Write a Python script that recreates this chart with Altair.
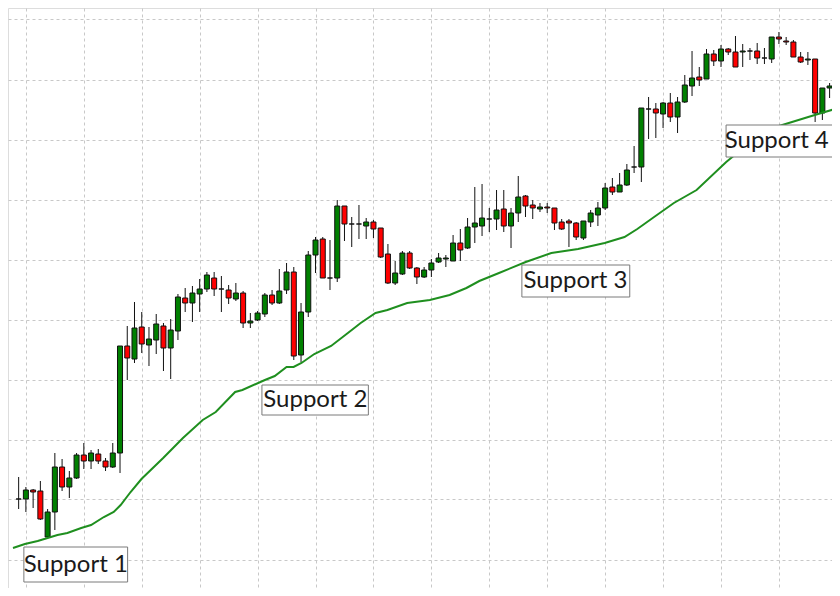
import altair as alt
import pandas as pd

# Candles (index 0..112); prices in arbitrary chart units
opens = [121,121,130,129,83,108,153,133,142,165,159,166,159,153,167,274,261,293,275,280,
         294,272,289,322,317,326,331,342,331,330,321,327,297,300,306,325,317,330,348,265,
         308,365,381,342,342,414,396,396,394,398,392,366,337,346,367,352,343,350,358,361,
         359,377,372,393,394,401,401,411,394,407,424,415,411,413,412,398,399,397,382,398,
         405,412,433,428,435,453,453,511,511,506,517,503,518,534,543,541,566,559,571,568,
         568,569,569,562,561,583,579,578,563,560,561,507,532]
closes = [121,130,128,101,108,153,133,142,165,159,167,159,153,167,274,262,292,276,281,296,
          272,290,323,317,327,331,345,331,331,322,327,297,299,307,325,317,329,348,264,308,
          365,380,342,342,414,396,396,396,398,391,363,337,347,367,352,343,350,357,362,362,
          377,370,393,397,402,401,410,394,407,423,414,412,413,412,397,391,397,383,399,407,
          412,432,428,435,450,453,512,511,507,517,503,518,535,542,540,566,559,571,568,553,
          569,569,562,562,583,581,578,563,558,561,507,532,534]
highs = [143,133,131,139,111,167,161,149,167,177,170,171,162,177,274,294,318,308,293,306,
         297,301,326,332,334,341,348,348,344,335,337,329,307,309,327,330,351,357,353,317,
         369,383,383,380,420,414,403,415,402,400,392,376,359,369,369,353,353,361,367,365,
         385,391,402,433,436,412,430,430,412,444,425,420,417,417,412,401,401,398,399,410,
         418,437,442,447,456,474,512,523,517,518,527,523,545,569,553,571,570,575,572,584,
         576,572,577,572,583,588,583,580,568,568,561,532,537]
lows = [111,108,112,100,83,90,129,122,141,151,151,156,149,152,147,240,257,267,254,266,
        249,241,280,308,298,308,328,324,308,316,319,292,292,299,303,315,316,326,260,258,
        303,347,342,330,338,379,373,381,381,382,362,336,335,345,351,336,342,343,357,353,
        359,359,371,377,384,388,390,388,372,398,403,401,408,407,390,390,373,380,380,393,
        394,410,425,428,434,447,438,481,482,492,498,487,517,524,534,541,554,553,565,553,
        553,560,556,556,557,576,575,563,557,555,498,500,522]

# Moving average, read at positions along the candle index axis
ma_idx = [-0.78,0.86,2.63,4.0,5.36,6.73,8.64,10.0,11.77,13.13,14.09,15.46,16.96,19.96,22.69,
          25.42,27.22,29.9,30.9,34.01,35.37,37.0,37.97,39.06,40.83,43.15,45.47,47.24,49.29,
          50.93,53.66,56.79,59.52,61.84,63.62,66.34,70.03,73.57,77.26,80.94,83.67,85.44,
          87.76,90.49,93.63,97.72,101.41,104.13,105.91,109.05,110.41,112.73]
ma_val = [72,76,79,82,85,87,92,95,103,108,115,128,141,162,182,200,208,228,230,240,244,253,
          253,257,266,274,287,297,307,310,317,320,325,332,339,347,358,367,371,377,383,391,
          403,417,430,458,480,492,496,503,506,511]

# Annotation labels
labels = ["Support 1", "Support 2", "Support 3", "Support 4"]
label_x = [7.89, 40.97, 76.9, 104.7]
label_y = [55, 220, 339, 479]
box_x1 = [0.72, 33.6, 69.5, 97.7]
box_x2 = [15.05, 48.3, 84.4, 114.5]
box_y1 = [38, 205, 323, 463]
box_y2 = [73, 235, 355, 495]

n = len(opens)
df = pd.DataFrame({
    "i": list(range(n)),
    "open": opens, "close": closes, "high": highs, "low": lows,
})
df["dir"] = ["up" if c >= o else "down" for o, c in zip(opens, closes)]
ma_df = pd.DataFrame({"i": ma_idx, "ma": ma_val})
lab_df = pd.DataFrame({"label": labels, "lx": label_x, "ly": label_y,
                       "x1": box_x1, "x2": box_x2, "y1": box_y1, "y2": box_y2})

xgrid = [1 + 8 * k for k in range(14)]
ygrid = [60.5 + 60 * k for k in range(10)]

xs = alt.Scale(domain=[-0.78, 111.64], nice=False, zero=False)
ys = alt.Scale(domain=[32, 612], nice=False, zero=False)
xax = alt.Axis(values=xgrid, grid=True, labels=False, ticks=False, domain=False, title=None,
               gridColor="#c8c8c8", gridDash=[3, 3], gridWidth=1)
yax = alt.Axis(values=ygrid, grid=True, labels=False, ticks=False, domain=False, title=None,
               gridColor="#c8c8c8", gridDash=[3, 3], gridWidth=1)

base = alt.Chart(df)

wicks = base.mark_rule(color="#111111", strokeWidth=1, clip=True).encode(
    x=alt.X("i:Q", scale=xs, axis=xax),
    y=alt.Y("high:Q", scale=ys, axis=yax),
    y2="low:Q",
)

bodies = base.mark_bar(size=5, stroke="#111111", strokeWidth=1, clip=True).encode(
    x=alt.X("i:Q", scale=xs, axis=xax),
    y=alt.Y("open:Q", scale=ys, axis=yax),
    y2="close:Q",
    color=alt.Color("dir:N", scale=alt.Scale(domain=["up", "down"], range=["#008000", "#ff0000"]),
                    legend=None),
)

ma = alt.Chart(ma_df).mark_line(color="#1f8f1f", strokeWidth=2, clip=True).encode(
    x=alt.X("i:Q", scale=xs, axis=xax),
    y=alt.Y("ma:Q", scale=ys, axis=yax),
)

boxes = alt.Chart(lab_df).mark_rect(fill="white", stroke="#7a7a7a", strokeWidth=1, clip=True).encode(
    x=alt.X("x1:Q", scale=xs, axis=xax), x2="x2:Q",
    y=alt.Y("y1:Q", scale=ys, axis=yax), y2="y2:Q",
)

texts = alt.Chart(lab_df).mark_text(font="Lato", fontSize=24, color="#1a1a1a",
                                    align="center", baseline="middle", clip=True).encode(
    x=alt.X("lx:Q", scale=xs, axis=xax),
    y=alt.Y("ly:Q", scale=ys, axis=yax),
    text="label:N",
)

chart = alt.layer(wicks, bodies, ma, boxes, texts).properties(
    width=824, height=580, padding=0, autosize="none",
).configure_view(stroke="transparent", strokeWidth=0).configure(background="white")

chart.save("out.html", embed_options={"renderer": "svg", "actions": False})
